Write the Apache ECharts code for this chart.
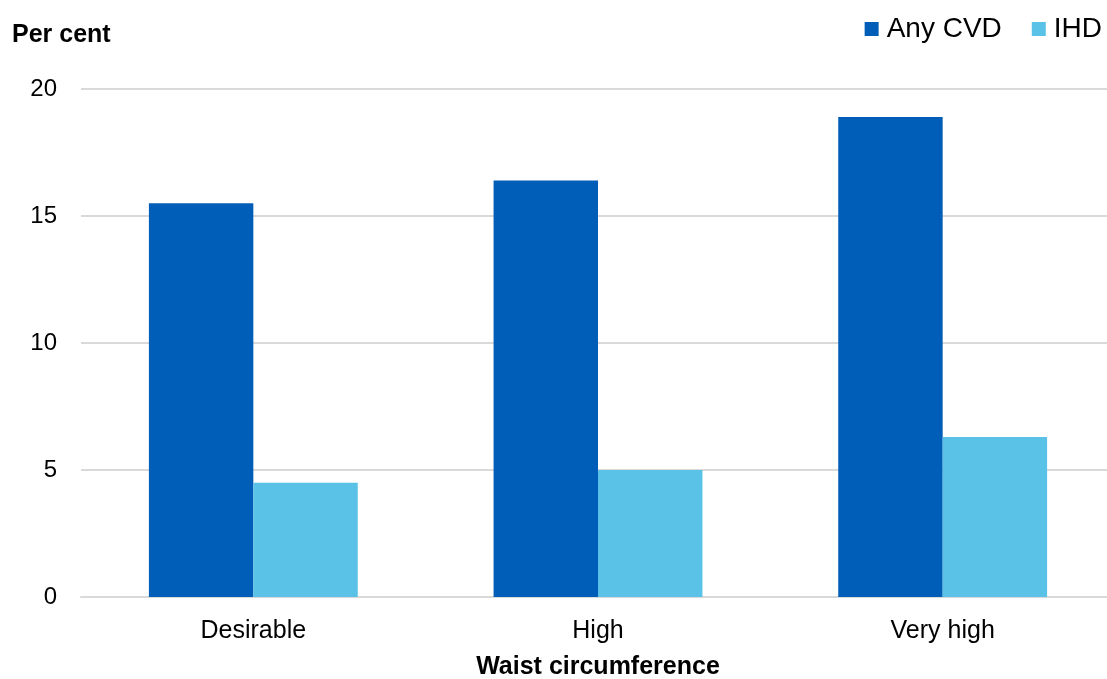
<!DOCTYPE html>
<html>
<head>
<meta charset="utf-8">
<script src="https://cdn.jsdelivr.net/npm/echarts@6/dist/echarts.min.js"></script>
<style>html,body{margin:0;padding:0;background:#fff;}#chart{width:1107px;height:679px;}</style>
</head>
<body>
<div id="chart"></div>
<script>
const categories = ['Desirable', 'High', 'Very high'];
const anyCVD = [15.5, 16.4, 18.9];
const ihd = [4.5, 5.0, 6.3];
const seriesNames = ['Any CVD', 'IHD'];
const yTicks = [0, 5, 10, 15, 20];

const chart = echarts.init(document.getElementById('chart'));
const font = 'Liberation Sans, Arial, sans-serif';
chart.setOption({
  backgroundColor: '#ffffff',
  animation: false,
  title: {
    text: 'Per cent', left: 7, top: 18,
    textStyle: { fontFamily: font, fontSize: 25, fontWeight: 'bold', color: '#000' }
  },
  legend: {
    data: seriesNames, right: 0, top: 10, icon: 'rect',
    itemWidth: 14, itemHeight: 14, itemGap: 30,
    textStyle: { fontFamily: font, fontSize: 28, color: '#000', padding: [0, 0, 0, 3] }
  },
  grid: { left: 81, right: -8, top: 89, bottom: 82, outerBoundsMode: 'none', containLabel: false },
  xAxis: {
    type: 'category', data: categories,
    name: 'Waist circumference', nameLocation: 'middle', nameGap: 58,
    nameTextStyle: { fontFamily: font, fontSize: 25, fontWeight: 'bold', color: '#000' },
    axisLine: { show: true, lineStyle: { color: '#d9d9d9', width: 2 } },
    axisTick: { show: false },
    axisLabel: { fontFamily: font, fontSize: 25, color: '#000', margin: 22 }
  },
  yAxis: {
    type: 'value', min: yTicks[0], max: yTicks[yTicks.length - 1], interval: 5,
    axisLine: { show: false }, axisTick: { show: false },
    splitLine: { lineStyle: { color: '#d9d9d9', width: 2 } },
    axisLabel: { fontFamily: font, fontSize: 24, color: '#000', margin: 24 }
  },
  series: [
    { name: seriesNames[0], type: 'bar', data: anyCVD, barGap: '0%', barCategoryGap: '39.4%',
      itemStyle: { color: '#005EB8' } },
    { name: seriesNames[1], type: 'bar', data: ihd, barGap: '0%', barCategoryGap: '39.4%',
      itemStyle: { color: '#5BC2E7' } }
  ]
});
</script>
</body>
</html>
